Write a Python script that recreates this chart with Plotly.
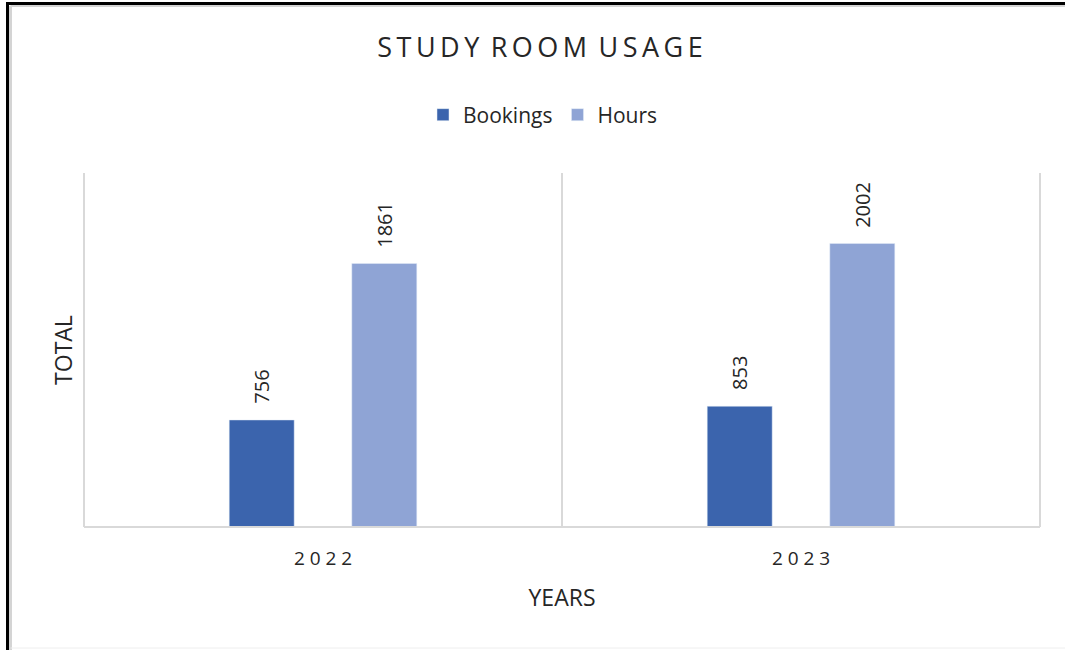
import plotly.graph_objects as go

years = ["2022", "2023"]
year_labels = ["2 0 2 2", "2 0 2 3"]
bookings = [756, 853]
hours = [1861, 2002]

W, H = 1065, 650
L, R, T, B = 84, 25, 173, 123
pw = W - L - R
ph = H - T - B

BARGAP = 0.487
GROUPGAP = 0.47
# pixel width of one bar slot inside a year group
slot_px = pw / len(years) * (1 - BARGAP) / 2


def px_x(x):
    return (x - L) / pw


def px_y(y):
    return (H - B - y) / ph


def spaced(text):
    # letter-spaced caps: thin space between letters, wider gap between words
    thin = "\u2009"
    return (" " + thin).join(thin.join(word) for word in text.split(" "))


font_family = "Open Sans, Liberation Sans, sans-serif"
text_color = "#262626"

fig = go.Figure()
fig.add_trace(go.Bar(name="Bookings", x=years, y=bookings, marker_color="#3b64ad"))
fig.add_trace(go.Bar(name="Hours", x=years, y=hours, marker_color="#8fa4d5"))

# value labels, rotated, sitting a little above each bar
# (x given as the category index so the numeric-looking names stay categories)
annotations = []
for values, shift in ((bookings, -slot_px / 2), (hours, slot_px / 2)):
    for idx, v in enumerate(values):
        annotations.append(dict(
            x=idx, y=v, xref="x", yref="y", text=str(v), showarrow=False,
            textangle=-90, xanchor="center", yanchor="bottom",
            xshift=shift, yshift=14,
            font=dict(size=20, color=text_color, family=font_family),
        ))

grid_line = dict(color="#d9d9d9", width=2)
shapes = [
    # plot frame: left, right, bottom and category divider
    dict(type="line", xref="paper", yref="paper", x0=0, x1=0, y0=0, y1=1, line=grid_line),
    dict(type="line", xref="paper", yref="paper", x0=1, x1=1, y0=0, y1=1, line=grid_line),
    dict(type="line", xref="paper", yref="paper", x0=0, x1=1, y0=0, y1=0, line=grid_line),
    dict(type="line", xref="paper", yref="paper", x0=0.5, x1=0.5, y0=0, y1=1, line=grid_line),
    # outer border with inner shading
    dict(type="line", xref="paper", yref="paper", x0=px_x(10.5), x1=px_x(W), y0=px_y(6), y1=px_y(6),
         line=dict(color="#d4d4d4", width=2)),
    dict(type="line", xref="paper", yref="paper", x0=px_x(10.5), x1=px_x(10.5), y0=px_y(6), y1=px_y(H),
         line=dict(color="#d4d4d4", width=3)),
    dict(type="line", xref="paper", yref="paper", x0=px_x(10.5), x1=px_x(W), y0=px_y(648), y1=px_y(648),
         line=dict(color="#eeeeee", width=1)),
    dict(type="line", xref="paper", yref="paper", x0=px_x(7.5), x1=px_x(W), y0=px_y(3.5), y1=px_y(3.5),
         line=dict(color="#000000", width=3)),
    dict(type="line", xref="paper", yref="paper", x0=px_x(7.5), x1=px_x(7.5), y0=px_y(2), y1=px_y(H),
         line=dict(color="#000000", width=3)),
]

fig.update_layout(
    width=W, height=H,
    margin=dict(l=L, r=R, t=T, b=B),
    paper_bgcolor="white", plot_bgcolor="white",
    font=dict(family=font_family, color=text_color),
    title=dict(text=spaced("STUDY ROOM USAGE"), x=px_x(540), xref="paper", xanchor="center",
               y=1 - 48 / H, yanchor="middle",
               font=dict(size=27, color=text_color)),
    barmode="group", bargap=BARGAP, bargroupgap=GROUPGAP,
    legend=dict(orientation="h", x=px_x(543), xanchor="center", y=1 + (T - 115) / ph, yanchor="middle",
                font=dict(size=21, color=text_color), itemwidth=30, traceorder="normal"),
    xaxis=dict(type="category", range=[-0.5, len(years) - 0.5],
               tickvals=years, ticktext=year_labels, showline=False, showgrid=False,
               ticks="", tickfont=dict(size=19, color=text_color), ticklabelstandoff=18,
               tickangle=0,
               title=dict(text="YEARS", font=dict(size=23, color=text_color), standoff=19)),
    yaxis=dict(range=[0, 2500], showticklabels=False, showgrid=False, zeroline=False,
               showline=False, ticks="",
               title=dict(text="TOTAL", font=dict(size=23, color=text_color), standoff=3)),
    shapes=shapes,
    annotations=annotations,
)

fig.write_html("out.html")
